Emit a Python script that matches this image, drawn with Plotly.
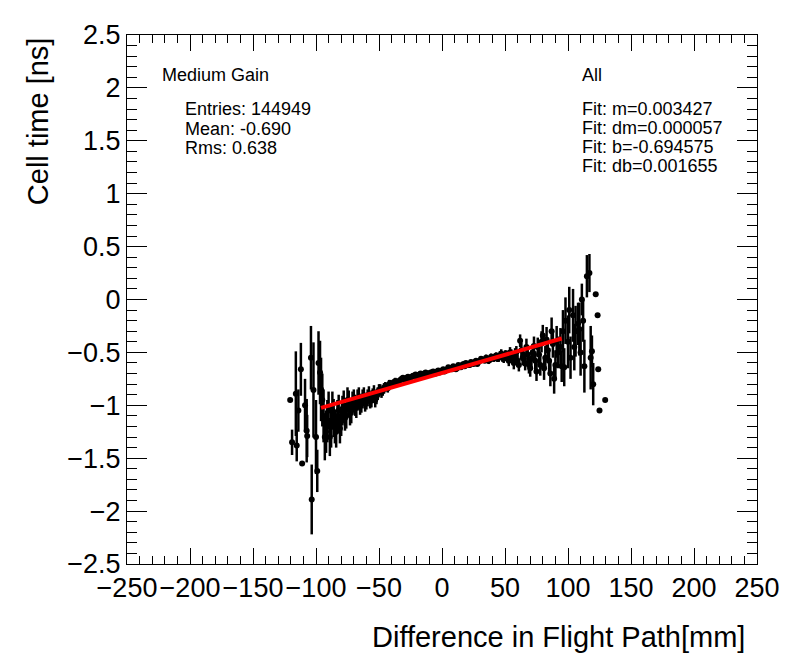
import plotly.graph_objects as go

# left tail (sparse, big errors)
x_left = [-120.5, -119, -116, -115.3, -114, -112, -111, -108.7, -107.4, -107,
          -104, -103.4, -102, -100, -99, -98, -96.8, -96, -95]
y_left = [-0.95, -1.35, -0.89, -1.38, -1.05, -0.66, -1.55, -1.00, -1.24, -1.29,
          -0.55, -1.89, -0.855, -1.30, -1.62, -0.60, -0.69, -0.85, -0.95]
e_left = [0.0, 0.12, 0.40, 0.15, 0.20, 0.25, 0.0, 0.25, 0.30, 0.20,
          0.30, 0.33, 0.45, 0.35, 0.20, 0.30, 0.30, 0.30, 0.25]

# core band, even bins
x_core = [-94, -92, -90, -88, -86, -84, -82, -80, -78, -76, -74, -72, -70, -68, -66,
          -64, -62, -60, -58, -56, -54, -52, -50, -48, -46, -44, -42, -40, -38, -36,
          -34, -32, -30, -28, -26, -24, -22, -20, -18, -16, -14, -12, -10, -8, -6,
          -4, -2, 0, 2, 4, 6, 8, 10, 12, 14, 16, 18, 20, 22, 24,
          26, 28, 30, 32, 34, 36, 38, 40, 42, 44, 46, 48, 50, 52, 54,
          56, 58, 60, 62, 64, 66, 68, 70, 72, 74, 76, 78, 80, 82, 84,
          86, 88, 90, 92]
y_core = [-1.10, -1.25, -1.05, -1.20, -1.12, -1.25, -1.05, -1.15, -1.00, -1.10, -0.98, -1.05, -0.95, -1.02, -0.93,
          -0.98, -0.92, -0.96, -0.90, -0.94, -0.88, -0.92, -0.86, -0.88, -0.84, -0.83, -0.80, -0.81, -0.78, -0.79,
          -0.77, -0.75, -0.76, -0.74, -0.75, -0.73, -0.72, -0.73, -0.71, -0.72, -0.70, -0.71, -0.70, -0.69, -0.69,
          -0.68, -0.69, -0.67, -0.68, -0.66, -0.65, -0.66, -0.64, -0.65, -0.63, -0.62, -0.63, -0.61, -0.62, -0.60,
          -0.59, -0.61, -0.58, -0.57, -0.58, -0.56, -0.57, -0.55, -0.54, -0.56, -0.53, -0.55, -0.52, -0.54, -0.50,
          -0.56, -0.52, -0.58, -0.39, -0.55, -0.60, -0.52, -0.65, -0.50, -0.58, -0.45, -0.62, -0.34, -0.55, -0.48,
          -0.70, -0.42, -0.62, -0.50]
e_core = [0.25, 0.20, 0.18, 0.20, 0.18, 0.15, 0.15, 0.14, 0.14, 0.12, 0.12, 0.12, 0.10, 0.10, 0.10,
          0.09, 0.09, 0.08, 0.08, 0.08, 0.07, 0.07, 0.06, 0.05, 0.05, 0.04, 0.04, 0.03, 0.03, 0.03,
          0.03, 0.02, 0.02, 0.02, 0.02, 0.02, 0.02, 0.02, 0.02, 0.02, 0.02, 0.02, 0.02, 0.02, 0.02,
          0.02, 0.02, 0.02, 0.02, 0.02, 0.02, 0.02, 0.02, 0.02, 0.02, 0.02, 0.02, 0.02, 0.02, 0.02,
          0.02, 0.02, 0.02, 0.02, 0.02, 0.03, 0.03, 0.03, 0.03, 0.03, 0.04, 0.04, 0.04, 0.05, 0.05,
          0.05, 0.06, 0.06, 0.06, 0.07, 0.07, 0.08, 0.08, 0.08, 0.09, 0.09, 0.10, 0.10, 0.11, 0.12,
          0.12, 0.13, 0.14, 0.15]

# core band, odd bins
x_core2 = [-93, -91, -89, -87, -85, -83, -81, -79, -77, -75, -73, -71, -69, -67, -65,
           -63, -61, -59, -57, -55, -53, -51, -49, -47, -45, -43, -41, -39, -37, -35,
           -33, -31, -29, -27, -25, -23, -21, -19, -17, -15, -13, -11, -9, -7, -5,
           -3, -1, 1, 3, 5, 7, 9, 11, 13, 15, 17, 19, 21, 23, 25,
           27, 29, 31, 33, 35, 37, 39, 41, 43, 45, 47, 49, 51, 53, 55,
           57, 59, 61, 63, 65, 67, 69, 71, 73, 75, 77, 79, 81, 83, 85,
           87, 89, 91]
y_core2 = [-1.30, -1.15, -1.30, -1.05, -1.20, -1.10, -1.22, -1.05, -1.12, -0.95, -1.08, -0.98, -1.00, -0.95, -1.00,
           -0.94, -0.98, -0.93, -0.96, -0.91, -0.95, -0.89, -0.85, -0.86, -0.82, -0.84, -0.79, -0.80, -0.77, -0.78,
           -0.76, -0.74, -0.75, -0.73, -0.74, -0.72, -0.71, -0.72, -0.70, -0.71, -0.69, -0.70, -0.69, -0.68, -0.70,
           -0.67, -0.68, -0.66, -0.67, -0.64, -0.65, -0.63, -0.66, -0.62, -0.64, -0.61, -0.60, -0.62, -0.59, -0.61,
           -0.58, -0.59, -0.56, -0.57, -0.55, -0.58, -0.54, -0.56, -0.53, -0.55, -0.51, -0.56, -0.53, -0.58, -0.52,
           -0.60, -0.50, -0.62, -0.48, -0.56, -0.45, -0.62, -0.56, -0.44, -0.68, -0.52, -0.40, -0.65, -0.38, -0.58,
           -0.30, -0.75, -0.40]
e_core2 = [0.22, 0.20, 0.18, 0.18, 0.16, 0.15, 0.14, 0.14, 0.12, 0.12, 0.11, 0.11, 0.10, 0.10, 0.09,
           0.09, 0.08, 0.08, 0.07, 0.07, 0.07, 0.06, 0.05, 0.05, 0.04, 0.04, 0.03, 0.03, 0.03, 0.03,
           0.02, 0.02, 0.02, 0.02, 0.02, 0.02, 0.02, 0.02, 0.02, 0.02, 0.02, 0.02, 0.02, 0.02, 0.02,
           0.02, 0.02, 0.02, 0.02, 0.02, 0.02, 0.02, 0.02, 0.02, 0.02, 0.02, 0.02, 0.02, 0.02, 0.02,
           0.02, 0.02, 0.02, 0.02, 0.03, 0.03, 0.03, 0.03, 0.03, 0.04, 0.04, 0.04, 0.05, 0.05, 0.05,
           0.06, 0.06, 0.06, 0.07, 0.07, 0.08, 0.08, 0.08, 0.09, 0.09, 0.10, 0.10, 0.11, 0.12, 0.12,
           0.13, 0.14, 0.15]

# right tail
x_right = [94, 95, 96, 97, 98, 100, 101, 102, 104, 105, 106, 108, 109, 110, 111,
           112, 113, 115, 117, 118, 119, 120, 122, 123.5, 124, 125, 129.5]
y_right = [-0.45, -0.63, -0.30, -0.64, -0.20, -0.40, -0.10, -0.55, -0.15, -0.45, -0.30, -0.23, -0.28, -0.50, 0.0,
           -0.20, -0.63, 0.22, 0.25, -0.55, -0.49, -0.80, 0.05, -0.15, -0.66, -1.05, -0.95]
e_right = [0.18, 0.15, 0.20, 0.18, 0.22, 0.25, 0.22, 0.20, 0.25, 0.22, 0.24, 0.20, 0.25, 0.22, 0.15,
           0.20, 0.25, 0.20, 0.18, 0.30, 0.15, 0.20, 0.0, 0.0, 0.0, 0.0, 0.0]

# fit line end points (m=0.003427, b=-0.694575)
fit_x = [-96, 95]
fit_y = [-1.024, -0.369]

FONT = "Liberation Sans, Arial, Helvetica, sans-serif"

fig = go.Figure()
fig.add_trace(go.Scatter(
    x=x_left + x_core + x_core2 + x_right,
    y=y_left + y_core + y_core2 + y_right,
    mode="markers",
    marker=dict(color="black", size=6),
    error_y=dict(type="data", array=e_left + e_core + e_core2 + e_right,
                 width=0, thickness=2.5, color="black"),
    showlegend=False,
))
fig.add_trace(go.Scatter(x=fit_x, y=fit_y, mode="lines",
                         line=dict(color="red", width=4), showlegend=False))

left_txt = [("Medium Gain", 0.052, 0.925), ("Entries: 144949", 0.089, 0.861),
            ("Mean: -0.690", 0.089, 0.823), ("Rms: 0.638", 0.089, 0.786)]
right_txt = [("All", 0.719, 0.925), ("Fit: m=0.003427", 0.719, 0.861),
             ("Fit: dm=0.000057", 0.719, 0.824), ("Fit: b=-0.694575", 0.719, 0.788),
             ("Fit: db=0.001655", 0.719, 0.753)]
for t, xx, yy in left_txt + right_txt:
    fig.add_annotation(text=t, x=xx, y=yy, xref="paper", yref="paper",
                       xanchor="left", yanchor="middle", showarrow=False,
                       font=dict(size=18, color="black", family=FONT))

fig.add_annotation(text="Difference in Flight Path[mm]", x=0.984, y=-0.138,
                   xref="paper", yref="paper", xanchor="right", yanchor="middle",
                   showarrow=False, font=dict(size=29, color="black", family=FONT))
fig.add_annotation(text="Cell time [ns]", x=-0.141, y=1.0, textangle=-90,
                   xref="paper", yref="paper", xanchor="center", yanchor="top",
                   showarrow=False, font=dict(size=29, color="black", family=FONT))

axis = dict(showgrid=False, zeroline=False, showline=True, linecolor="black",
            linewidth=1, mirror="allticks", ticks="inside", tickcolor="black",
            tickfont=dict(size=27, color="black", family=FONT), tickangle=0)
fig.update_xaxes(axis, range=[-250, 250], dtick=50, tick0=0, ticklen=16,
                 minor=dict(dtick=10, ticks="inside", ticklen=8, tickcolor="black"))
fig.update_yaxes(axis, range=[-2.5, 2.5], dtick=0.5, tick0=0, ticklen=20,
                 minor=dict(dtick=0.1, ticks="inside", ticklen=10, tickcolor="black"))

# page body adds an 8px margin, so the figure is 8px smaller and margins shifted
fig.update_layout(width=788, height=664, plot_bgcolor="white", paper_bgcolor="white",
                  margin=dict(l=119, r=39, t=25, b=108),
                  font=dict(family=FONT, color="black"))

fig.write_html("out.html")
